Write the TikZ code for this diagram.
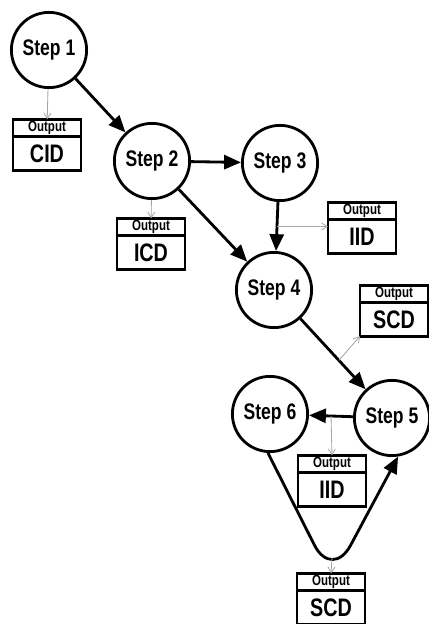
\documentclass[tikz,border=0pt]{standalone}
\usepackage{fontspec}
\setmainfont{Liberation Sans}[FakeStretch=0.78]
\usetikzlibrary{arrows.meta,positioning,calc}

\begin{document}
\begin{tikzpicture}[x=0.025cm,y=-0.025cm,
    step node/.style={circle,draw,line width=2pt,minimum size=1.88cm,inner sep=0pt,
        font=\bfseries\fontsize{16}{18}\selectfont},
    out head/.style={rectangle,draw,line width=1.9pt,outer sep=0pt,inner sep=0pt,
        minimum width=1.7cm,minimum height=0.43cm,font=\bfseries\fontsize{10.5}{12}\selectfont},
    out body/.style={rectangle,draw,line width=1.9pt,outer sep=0pt,inner sep=0pt,
        minimum width=1.7cm,minimum height=0.84cm,font=\bfseries\fontsize{18}{20}\selectfont},
    flow/.style={line width=2pt,-{Triangle[length=12pt,width=10pt]}},
    feed/.style={gray!70,line width=0.6pt,-{Straight Barb[length=4pt,width=5pt]}}]
    \useasboundingbox (0,0) rectangle (428,624);

    % steps
    \node[step node] (s1) at (49,50) {Step 1};
    \node[step node] (s2) at (152,161) {Step 2};
    \node[step node] (s3) at (280,163) {Step 3};
    \node[step node] (s4) at (274,290) {Step 4};
    \node[step node] (s5) at (392,418) {Step 5};
    \node[step node] (s6) at (270,414) {Step 6};

    % outputs
    \node[out head] (cidh) at (47,128) {Output};
    \node[out body, below=0pt of cidh] (cid) {CID};
    \node[out head] (icdh) at (151,227) {Output};
    \node[out body, below=0pt of icdh] (icd) {ICD};
    \node[out head] (iidh) at (362,211) {Output};
    \node[out body, below=0pt of iidh] (iid) {IID};
    \node[out head] (scdh) at (394,294) {Output};
    \node[out body, below=0pt of scdh] (scd) {SCD};
    \node[out head] (iidbh) at (332,464) {Output};
    \node[out body, below=0pt of iidbh] (iidb) {IID};
    \node[out head] (scdbh) at (331,582) {Output};
    \node[out body, below=0pt of scdbh] (scdb) {SCD};

    % main flow
    \draw[flow] (s1) -- (s2);
    \draw[flow] (s2) -- (s3);
    \draw[flow] (s2) -- (s4);
    \draw[flow] (s3.-93) -- (s4.87);
    \draw[flow] (s4) -- (s5);
    \draw[flow] (s5) -- (s6);
    \coordinate (v) at (332,580);
    \draw[flow, rounded corners=28pt] (s6.-93) -- (v) -- (s5.-81);

    % outputs of each step
    \coordinate (b34) at ($(s3.-93)!0.5!(s4.87)$);
    \coordinate (b45) at ($(s4)!0.55!(s5)$);
    \coordinate (b56) at ($(s5)!0.5!(s6)$);
    \coordinate (vb) at (332,558);
    \draw[feed] (s1) -- (cidh);
    \draw[feed] (s2) -- (icdh);
    \draw[feed] (b34) -- (b34 -| iid.west);
    \draw[feed] (b45) -- (scd.south west);
    \draw[feed] (b56) -- (iidbh.north);
    \draw[feed] (vb) -- (scdbh.north);
\end{tikzpicture}
\end{document}
